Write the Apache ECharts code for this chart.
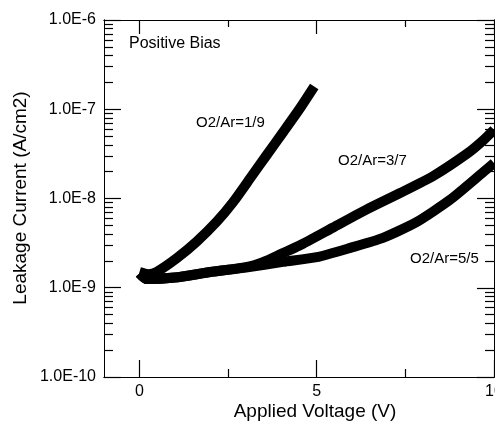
<!DOCTYPE html>
<html>
<head>
<meta charset="utf-8">
<script src="https://cdn.jsdelivr.net/npm/echarts@6/dist/echarts.min.js"></script>
<style>
html,body{margin:0;padding:0;background:#fff;}
#chart{width:495px;height:424px;}
</style>
</head>
<body>
<div id="chart"></div>
<script>
// ---- data ----
const v19 = [0, 0.25, 0.49, 1.05, 1.61, 2.18, 2.65, 3.12, 3.59, 4.06, 4.53, 4.93];
const i19 = [1.5e-9, 1.42e-9, 1.51e-9, 2.14e-9, 3.28e-9, 5.5e-9, 9.2e-9, 1.68e-8, 3.07e-8, 5.6e-8, 1.03e-7, 1.8e-7];

const v37 = [0, 0.2, 1.0, 2.0, 3.0, 3.5, 4.0, 4.5, 5.45, 6.4, 7.35, 8.3, 9.25, 9.7, 10];
const i37 = [1.45e-9, 1.25e-9, 1.3e-9, 1.5e-9, 1.7e-9, 1.95e-9, 2.4e-9, 2.95e-9, 4.7e-9, 7.5e-9, 1.15e-8, 1.8e-8, 3.2e-8, 4.5e-8, 5.9e-8];

const v55 = [0, 0.2, 1.0, 2.0, 3.0, 4.05, 5.0, 5.95, 6.85, 7.8, 8.75, 9.7, 10];
const i55 = [1.45e-9, 1.25e-9, 1.3e-9, 1.5e-9, 1.68e-9, 1.95e-9, 2.2e-9, 2.8e-9, 3.6e-9, 5.4e-9, 9.6e-9, 1.98e-8, 2.5e-8];

const seriesNames = ['O2/Ar=1/9', 'O2/Ar=3/7', 'O2/Ar=5/5'];
const yTickLabels = ['1.0E-10', '1.0E-9', '1.0E-8', '1.0E-7', '1.0E-6'];
const xTickValues = [0, 5, 10];
const xTickLabels = ['0', '5', '10'];
const xMinorValues = [2.5, 7.5];
const xTitle = 'Applied Voltage (V)';
const yTitle = 'Leakage Current (A/cm2)';
const annotation = 'Positive Bias';

// ---- build ----
const zip = (xs, ys) => xs.map((x, i) => [x, ys[i]]);
// tick positions as exponents (log10 space) for tick-only axes
const yMajorExp = [-10, -9, -8, -7, -6];
const yMinorExp = [];
for (let e = -10; e < -6; e++) for (let k = 2; k <= 9; k++) yMinorExp.push(e + Math.log10(k));

const FONT = '"Liberation Sans", Arial, sans-serif';
const black = '#000';

function tickAx(type, min, max, pos, len, cv) {
  return {
    type, min, max, position: pos,
    axisLine: {show: true, onZero: false, lineStyle: {color: black}},
    axisTick: {show: true, inside: true, length: len, customValues: cv, lineStyle: {color: black, width: 1.2}},
    axisLabel: {show: false},
    splitLine: {show: false}
  };
}

const mainX = {
  type: 'value', min: -1, max: 10, position: 'bottom',
  axisLine: {show: true, onZero: false, lineStyle: {color: black}},
  axisTick: {show: true, inside: true, length: 17, customValues: xTickValues, lineStyle: {color: black, width: 1.2}},
  axisLabel: {show: true, customValues: xTickValues, margin: 7, color: black, fontSize: 16, fontFamily: FONT,
    formatter: v => xTickLabels[xTickValues.indexOf(v)]},
  splitLine: {show: false}
};
const mainY = {
  type: 'log', logBase: 10, min: 1e-10, max: 1e-6, position: 'left',
  axisLine: {show: true, onZero: false, lineStyle: {color: black}},
  axisTick: {show: true, inside: true, length: 17, lineStyle: {color: black, width: 1.2}},
  axisLabel: {show: true, margin: 8, color: black, fontSize: 16, fontFamily: FONT,
    formatter: v => yTickLabels[Math.round(Math.log10(v)) + 10]},
  splitLine: {show: false}, minorTick: {show: false}, minorSplitLine: {show: false}
};

const lineSeries = (name, data) => ({
  name, type: 'line', data, xAxisIndex: 0, yAxisIndex: 0,
  smooth: 0.2, symbol: 'none', clip: true,
  lineStyle: {color: black, width: 10, cap: 'butt', join: 'round'}
});

const chart = echarts.init(document.getElementById('chart'));
chart.setOption({
  animation: false,
  grid: {left: 104, top: 20, width: 390, height: 357, outerBoundsMode: 'none'},
  xAxis: [
    mainX,
    tickAx('value', -1, 10, 'bottom', 8, xMinorValues),
    tickAx('value', -1, 10, 'top', 14, xTickValues),
    tickAx('value', -1, 10, 'top', 7, xMinorValues)
  ],
  yAxis: [
    mainY,
    tickAx('value', -10, -6, 'left', 9, yMinorExp),
    tickAx('value', -10, -6, 'right', 17, yMajorExp),
    tickAx('value', -10, -6, 'right', 9, yMinorExp)
  ],
  series: [
    lineSeries(seriesNames[0], zip(v19, i19)),
    lineSeries(seriesNames[1], zip(v37, i37)),
    lineSeries(seriesNames[2], zip(v55, i55))
  ],
  graphic: [
    {type: 'text', x: 129, y: 44, style: {text: annotation, font: '16px ' + FONT, fill: black, textAlign: 'left', textVerticalAlign: 'middle'}},
    {type: 'text', x: 196, y: 123, style: {text: seriesNames[0], font: '15px ' + FONT, fill: black, textAlign: 'left', textVerticalAlign: 'middle'}},
    {type: 'text', x: 338, y: 161, style: {text: seriesNames[1], font: '15px ' + FONT, fill: black, textAlign: 'left', textVerticalAlign: 'middle'}},
    {type: 'text', x: 410, y: 259, style: {text: seriesNames[2], font: '15px ' + FONT, fill: black, textAlign: 'left', textVerticalAlign: 'middle'}},
    {type: 'text', x: 315, y: 412, style: {text: xTitle, font: '19px ' + FONT, fill: black, textAlign: 'center', textVerticalAlign: 'middle'}},
    {type: 'text', x: 21, y: 198, rotation: Math.PI / 2, style: {text: yTitle, font: '19px ' + FONT, fill: black, textAlign: 'center', textVerticalAlign: 'middle'}}
  ]
});
</script>
</body>
</html>
